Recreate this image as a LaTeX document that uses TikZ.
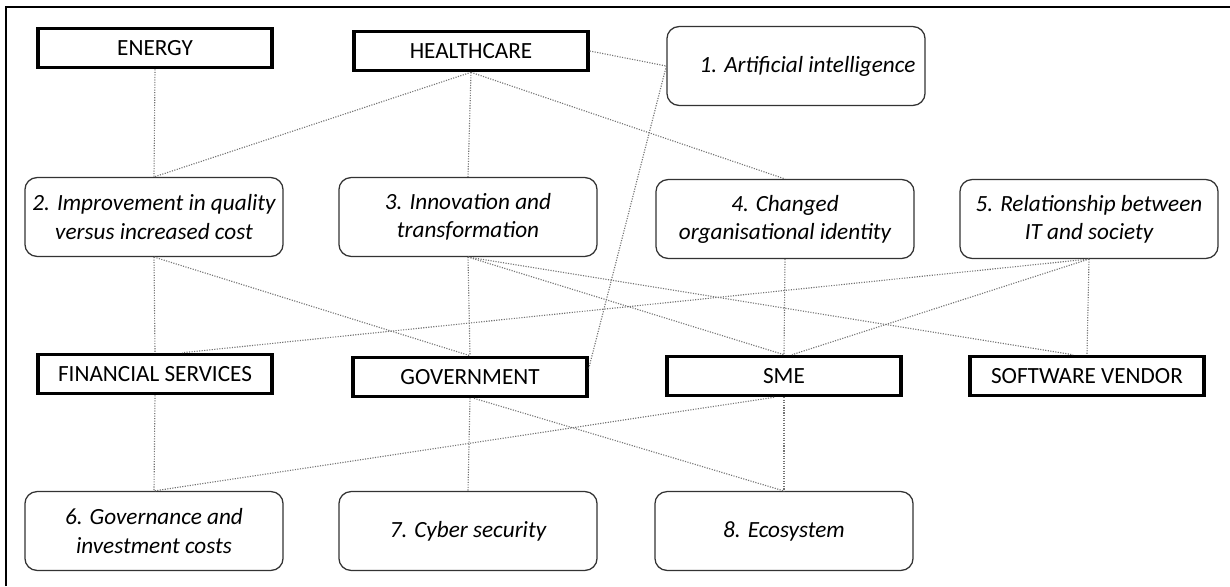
\documentclass[tikz,border=0pt]{standalone}
\usepackage{fontspec}
\setmainfont{Carlito}
\usetikzlibrary{calc}
\tikzstyle{sector} = [rectangle, draw, line width=2.4pt, minimum width=5.85cm, minimum height=0.98cm, inner sep=2pt, font=\fontsize{16.5}{20}\selectfont]
\tikzstyle{topic} = [rectangle, rounded corners=0.3cm, draw=black!80, line width=0.9pt, minimum width=6.45cm, minimum height=1.97cm, align=center, inner sep=2pt, font=\fontsize{16.5}{20}\selectfont\itshape]
\tikzstyle{link} = [densely dotted, black!55, line width=0.8pt]
\tikzstyle{frame} = [line width=1pt]

\begin{document}
\begin{tikzpicture}[x=0.025cm, y=-0.025cm]
  \useasboundingbox (0,0) rectangle (1230,586);

  % Frame (top and left only)
  \draw[frame] (6,586) -- (6,7) -- (1230,7);

  % Sectors
  \node (energy) [sector] at (155,48) {ENERGY};
  \node (health) [sector] at (471,51) {HEALTHCARE};
  \node (fin) [sector] at (155,374) {FINANCIAL SERVICES};
  \node (gov) [sector] at (470,377) {GOVERNMENT};
  \node (sme) [sector] at (784,376) {SME};
  \node (vendor) [sector] at (1087,376) {SOFTWARE VENDOR};

  % Topics
  \node (ai) [topic] at (796,66) {\raisebox{2pt}{\quad 1. Artificial intelligence}};
  \node (quality) [topic] at (154,217) {2. Improvement in quality\\versus increased cost};
  \node (innov) [topic] at (468,217) {3. Innovation and\\transformation};
  \node (identity) [topic] at (785,219) {4. Changed\\organisational identity};
  \node (society) [topic] at (1089,219) {5. Relationship between\\IT and society};
  \node (govern) [topic] at (154,531) {6. Governance and\\investment costs};
  \node (cyber) [topic] at (468,531) {7. Cyber security};
  \node (eco) [topic] at (784,531) {8. Ecosystem};

  % Links, top row
  \draw[link] (energy.south) -- (quality.north);
  \draw[link] (health.south) -- (quality.north);
  \draw[link] (health.south) -- (innov.north);
  \draw[link] (health.south) -- (identity.north);
  \draw[link] (health.east) -- (ai.west);
  \draw[link] (ai.west) -- ($(gov.north east)!0.3!(gov.south east)$);

  % Links, middle
  \draw[link] (quality.south) -- (fin.north);
  \draw[link] (quality.south) -- (gov.north);
  \draw[link] (innov.south) -- (gov.north);
  \draw[link] (innov.south) -- (sme.north);
  \draw[link] (innov.south) -- ($(vendor.north)+(-14,0)$);
  \draw[link] (identity.south) -- (sme.north);
  \draw[link] (society.south) -- ($(fin.north)!0.23!(fin.north east)$);
  \draw[link] (society.south) -- ($(sme.north)+(8,0)$);
  \draw[link] (society.south) -- (vendor.north);

  % Links, bottom row
  \draw[link] (fin.south) -- (govern.north);
  \draw[link] ($(sme.south)+(-10,0)$) -- (govern.north);
  \draw[link] (gov.south) -- (cyber.north);
  \draw[link] ($(gov.south)+(4,0)$) -- (eco.north);
  \draw[link] (sme.south) -- (eco.north);

\end{tikzpicture}
\end{document}
